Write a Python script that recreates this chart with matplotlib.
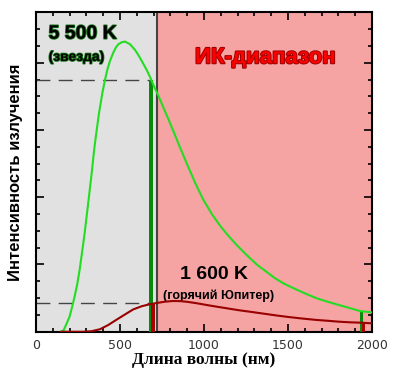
import numpy as np
import matplotlib
matplotlib.use("Agg")
import matplotlib.pyplot as plt
import matplotlib.patheffects as pe
from matplotlib.ticker import MultipleLocator

# Кривые излучения (длина волны, нм -> интенсивность, усл. ед.)
star_wl = [150, 165, 183, 200, 218, 230, 245, 260, 276, 290, 310, 330, 347, 360,
           375, 395, 411, 425, 440, 460, 475, 490, 510, 530, 560, 589, 610, 630,
           660, 679, 698, 730, 760, 790, 817, 860, 900, 950, 996, 1050, 1100,
           1150, 1200, 1274, 1320, 1370, 1420, 1472, 1520, 1570, 1620, 1671,
           1740, 1800, 1870, 1929, 2000]
star_val = [0.0, 0.1, 0.5, 0.9, 1.6, 2.1, 2.8, 3.7, 4.86, 5.9, 7.6, 9.3, 10.9,
            11.9, 13.0, 14.2, 15.0, 15.6, 16.1, 16.6, 16.9, 17.1, 17.22, 17.26,
            17.1, 16.77, 16.45, 16.1, 15.55, 15.15, 14.7, 14.0, 13.3, 12.6, 11.95,
            10.9, 9.95, 8.8, 7.85, 6.95, 6.25, 5.65, 5.1, 4.37, 3.95, 3.58, 3.2,
            2.88, 2.65, 2.42, 2.2, 1.99, 1.77, 1.6, 1.4, 1.23, 1.15]

planet_wl = [150, 280, 330, 381, 430, 480, 530, 579, 630, 675, 718, 770, 817,
             860, 900, 960, 1016, 1070, 1120, 1170, 1214, 1274, 1373, 1430, 1500,
             1580, 1671, 1740, 1800, 1870, 1929, 2000]
planet_val = [0.0, 0.0, 0.03, 0.15, 0.4, 0.72, 1.03, 1.33, 1.52, 1.63, 1.71,
              1.79, 1.83, 1.82, 1.78, 1.69, 1.59, 1.5, 1.42, 1.34, 1.27, 1.19,
              1.05, 0.97, 0.88, 0.79, 0.70, 0.65, 0.60, 0.56, 0.54, 0.50]

# Узкие полосы (начало, ширина, высота)
star_bands = [(675, 22, 15.0), (1929, 20, 1.2)]
planet_bands = [(683, 27, 1.7), (1940, 20, 0.5)]

ir_start = 718
x_ticks = [0, 500, 1000, 1500, 2000]

fig = plt.figure(figsize=(4.0, 3.74), dpi=100)
ax = fig.add_axes([0.09, 0.113, 0.84, 0.854])

ax.axvspan(0, ir_start, color='#e1e1e1', zorder=0)
ax.axvspan(ir_start, 2000, color='#f5a3a3', zorder=0)
ax.axvline(ir_start, color='#444444', lw=1.5, zorder=1)

# Пунктирные уровни
ax.plot([0, star_bands[0][0]], [star_bands[0][2]] * 2, color='#444444', lw=1,
        dashes=(10, 6), zorder=2)
ax.plot([0, star_bands[0][0]], [planet_bands[0][2]] * 2, color='#444444', lw=1,
        dashes=(10, 6), zorder=2)

for left, w, h in star_bands:
    ax.bar(left, h, width=w, align='edge', color='#0a8a0a', zorder=3)
for left, w, h in planet_bands:
    ax.bar(left, h, width=w, align='edge', color='#aa0000', zorder=4)

ax.plot(star_wl, star_val, color='#22dd22', lw=1.5, zorder=5)
ax.plot(planet_wl, planet_val, color='#990000', lw=1.5, zorder=5)

ax.set_xlim(0, 2000)
ax.set_ylim(0, 19)
ax.set_xticks(x_ticks)
ax.xaxis.set_minor_locator(MultipleLocator(100))
ax.yaxis.set_major_locator(MultipleLocator(4))
ax.yaxis.set_minor_locator(MultipleLocator(1))
ax.set_yticklabels([])
ax.tick_params(which='both', direction='in', top=True, right=True, width=1.2)
ax.tick_params(which='major', length=6)
ax.tick_params(which='minor', length=3)
ax.tick_params(axis='x', labelsize=9, labelcolor='#333333', pad=5)
for s in ax.spines.values():
    s.set_linewidth(1.5)

ax.set_xlabel('Длина волны (нм)', family='Liberation Serif', fontweight='bold',
              fontsize=12.5, labelpad=0)
ax.set_ylabel('Интенсивность излучения', family='Liberation Sans', fontweight='bold',
              fontsize=12, labelpad=6)

green_edge = [pe.withStroke(linewidth=1.2, foreground='#1f7a1f')]
ax.text(75, 17.7, '5 500 K', family='Liberation Sans', fontweight='bold',
        fontsize=14, va='center', path_effects=green_edge)
ax.text(75, 16.35, '(звезда)', family='Liberation Sans', fontweight='bold',
        fontsize=10, va='center', path_effects=green_edge)

ax.text(1365, 16.3, 'ИК-диапазон', family='Liberation Sans', fontweight='bold',
        fontsize=16, color='#ff0000', ha='center', va='center',
        path_effects=[pe.withStroke(linewidth=1.5, foreground='#a00000')])

ax.text(860, 3.43, '1 600 K', family='Liberation Sans', fontweight='bold',
        fontsize=14, va='center')
ax.text(755, 2.12, '(горячий Юпитер)', family='Liberation Sans', fontweight='bold',
        fontsize=9, va='center')

fig.savefig('out.png', dpi=100)
